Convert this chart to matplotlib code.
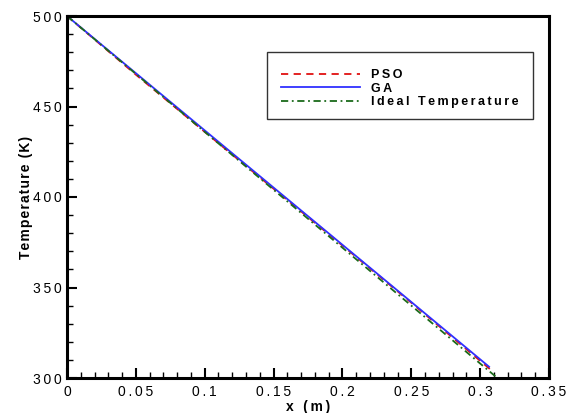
import matplotlib
matplotlib.use("Agg")
import matplotlib.pyplot as plt
from matplotlib.ticker import MultipleLocator, FixedLocator
from matplotlib.patches import Rectangle

plt.rcParams['font.family'] = ['Liberation Sans', 'DejaVu Sans']

# Data
x_pso = [0.0, 0.05, 0.1, 0.15, 0.2, 0.25, 0.307]
t_pso = [500.0, 467.6, 436.0, 404.6, 373.2, 341.6, 305.0]
x_ga = [0.0, 0.05, 0.1, 0.15, 0.2, 0.25, 0.3065]
t_ga = [500.0, 468.4, 436.8, 405.2, 373.6, 342.0, 306.2]
x_ideal = [0.0, 0.05, 0.1, 0.15, 0.2, 0.25, 0.3125]
t_ideal = [500.0, 468.0, 436.0, 404.0, 372.0, 340.0, 300.0]

xticks = [0, 0.05, 0.1, 0.15, 0.2, 0.25, 0.3, 0.35]
xticklabels = ['0', '0.05', '0.1', '0.15', '0.2', '0.25', '0.3', '0.35']
yticks = [300, 350, 400, 450, 500]
yticklabels = ['300', '350', '400', '450', '500']
series_labels = ['PSO', 'GA', 'Ideal Temperature']


def track(s, sp='\u2009'):
    return sp.join(s)


W, H = 571, 413
fig = plt.figure(figsize=(W / 100, H / 100), dpi=100)
ax = fig.add_axes([67 / W, 1 - 378 / H, (549 - 67) / W, (378 - 16) / H])

ax.plot(x_pso, t_pso, color='#e01010', ls=(0, (4, 3)), lw=1.3, label=track(series_labels[0]))
ax.plot(x_ga, t_ga, color='#3030ff', ls='-', lw=1.3, label=track(series_labels[1]))
ax.plot(x_ideal, t_ideal, color='#1a6a1a', ls=(0, (4, 2, 1, 2)), lw=1.3,
        label=track(series_labels[2]))

ax.set_xlim(0, 0.35)
ax.set_ylim(300, 500)
ax.xaxis.set_major_locator(FixedLocator(xticks))
ax.set_xticklabels([track(t) for t in xticklabels])
ax.xaxis.set_minor_locator(MultipleLocator(0.01))
ax.yaxis.set_major_locator(FixedLocator(yticks))
ax.set_yticklabels([track(t) for t in yticklabels])
ax.yaxis.set_minor_locator(MultipleLocator(10))

ax.tick_params(which='both', direction='in', top=False, right=False, labelsize=10)
ax.tick_params(axis='x', pad=5)
ax.tick_params(axis='y', pad=4)
ax.tick_params(which='major', length=7, width=1.5)
ax.tick_params(which='minor', length=4, width=1)
for s in ax.spines.values():
    s.set_linewidth(2.2)

ax.set_xlabel(track('x (m)'), fontsize=10, fontweight='bold', labelpad=1)
ax.set_ylabel(track('Temperature (K)', '\u200a'), fontsize=10, fontweight='bold', labelpad=0)

leg = ax.legend(loc='upper left', bbox_to_anchor=(281 / W, 1 - 69 / H),
                bbox_transform=fig.transFigure,
                frameon=False, prop={'weight': 'bold', 'size': 9},
                handlelength=6.3, handletextpad=0.9, labelspacing=0.12, borderpad=0,
                borderaxespad=0)

fig.patches.append(Rectangle((267 / W, 1 - 119 / H), 266 / W, 67 / H,
                             transform=fig.transFigure, fill=False,
                             ec='#333333', lw=1.0))

fig.savefig('out.png', dpi=100)
